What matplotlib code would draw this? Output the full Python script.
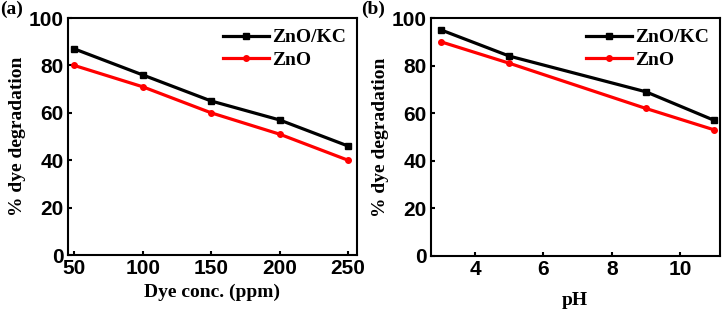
import matplotlib.pyplot as plt

# data
conc = [50, 100, 150, 200, 250]
conc_znokc = [87, 76, 65, 57, 46]
conc_zno = [80, 71, 60, 51, 40]

ph = [3, 5, 9, 11]
ph_znokc = [95, 84, 69, 57]
ph_zno = [90, 81, 62, 53]

serif = 'Liberation Serif'
sans = 'Liberation Sans'

fig = plt.figure(figsize=(7.24, 3.11), dpi=100)
ax1 = fig.add_axes([0.094, 0.180, 0.399, 0.762])
ax2 = fig.add_axes([0.595, 0.177, 0.399, 0.765])


def style(ax, xlabel):
    for s in ax.spines.values():
        s.set_linewidth(1.5)
    ax.tick_params(direction='in', length=3, width=1.5, labelsize=15, pad=3)
    for lab in ax.get_xticklabels() + ax.get_yticklabels():
        lab.set_fontfamily(sans)
        lab.set_fontweight('bold')
    ax.set_ylabel('% dye degradation', fontfamily=serif, fontweight='bold', fontsize=14, labelpad=2)
    ax.set_xlabel(xlabel, fontfamily=serif, fontweight='bold', fontsize=14)
    ax.set_ylim(0, 100)
    ax.set_yticks([0, 20, 40, 60, 80, 100])
    ax.legend(loc='upper right', frameon=False, handlelength=2.4,
              prop={'family': serif, 'weight': 'bold', 'size': 14},
              borderaxespad=0.15, labelspacing=0.25, handletextpad=0.15)


ax1.plot(conc, conc_znokc, color='black', marker='s', ms=4, lw=2.3, label='ZnO/KC')
ax1.plot(conc, conc_zno, color='red', marker='o', ms=4, lw=2.3, label='ZnO')
ax1.set_xlim(45.5, 256.5)
ax1.set_xticks(conc)
style(ax1, 'Dye conc. (ppm)')

ax2.plot(ph, ph_znokc, color='black', marker='s', ms=4, lw=2.3, label='ZnO/KC')
ax2.plot(ph, ph_zno, color='red', marker='o', ms=4, lw=2.3, label='ZnO')
ax2.set_xlim(2.7, 11.16)
ax2.set_xticks([4, 6, 8, 10])
style(ax2, 'pH')
ax2.xaxis.labelpad = 9

fig.text(0.0, 0.955, '(a)', fontfamily=serif, fontweight='bold', fontsize=14)
fig.text(0.499, 0.955, '(b)', fontfamily=serif, fontweight='bold', fontsize=14)

fig.savefig('out.png', dpi=100)
